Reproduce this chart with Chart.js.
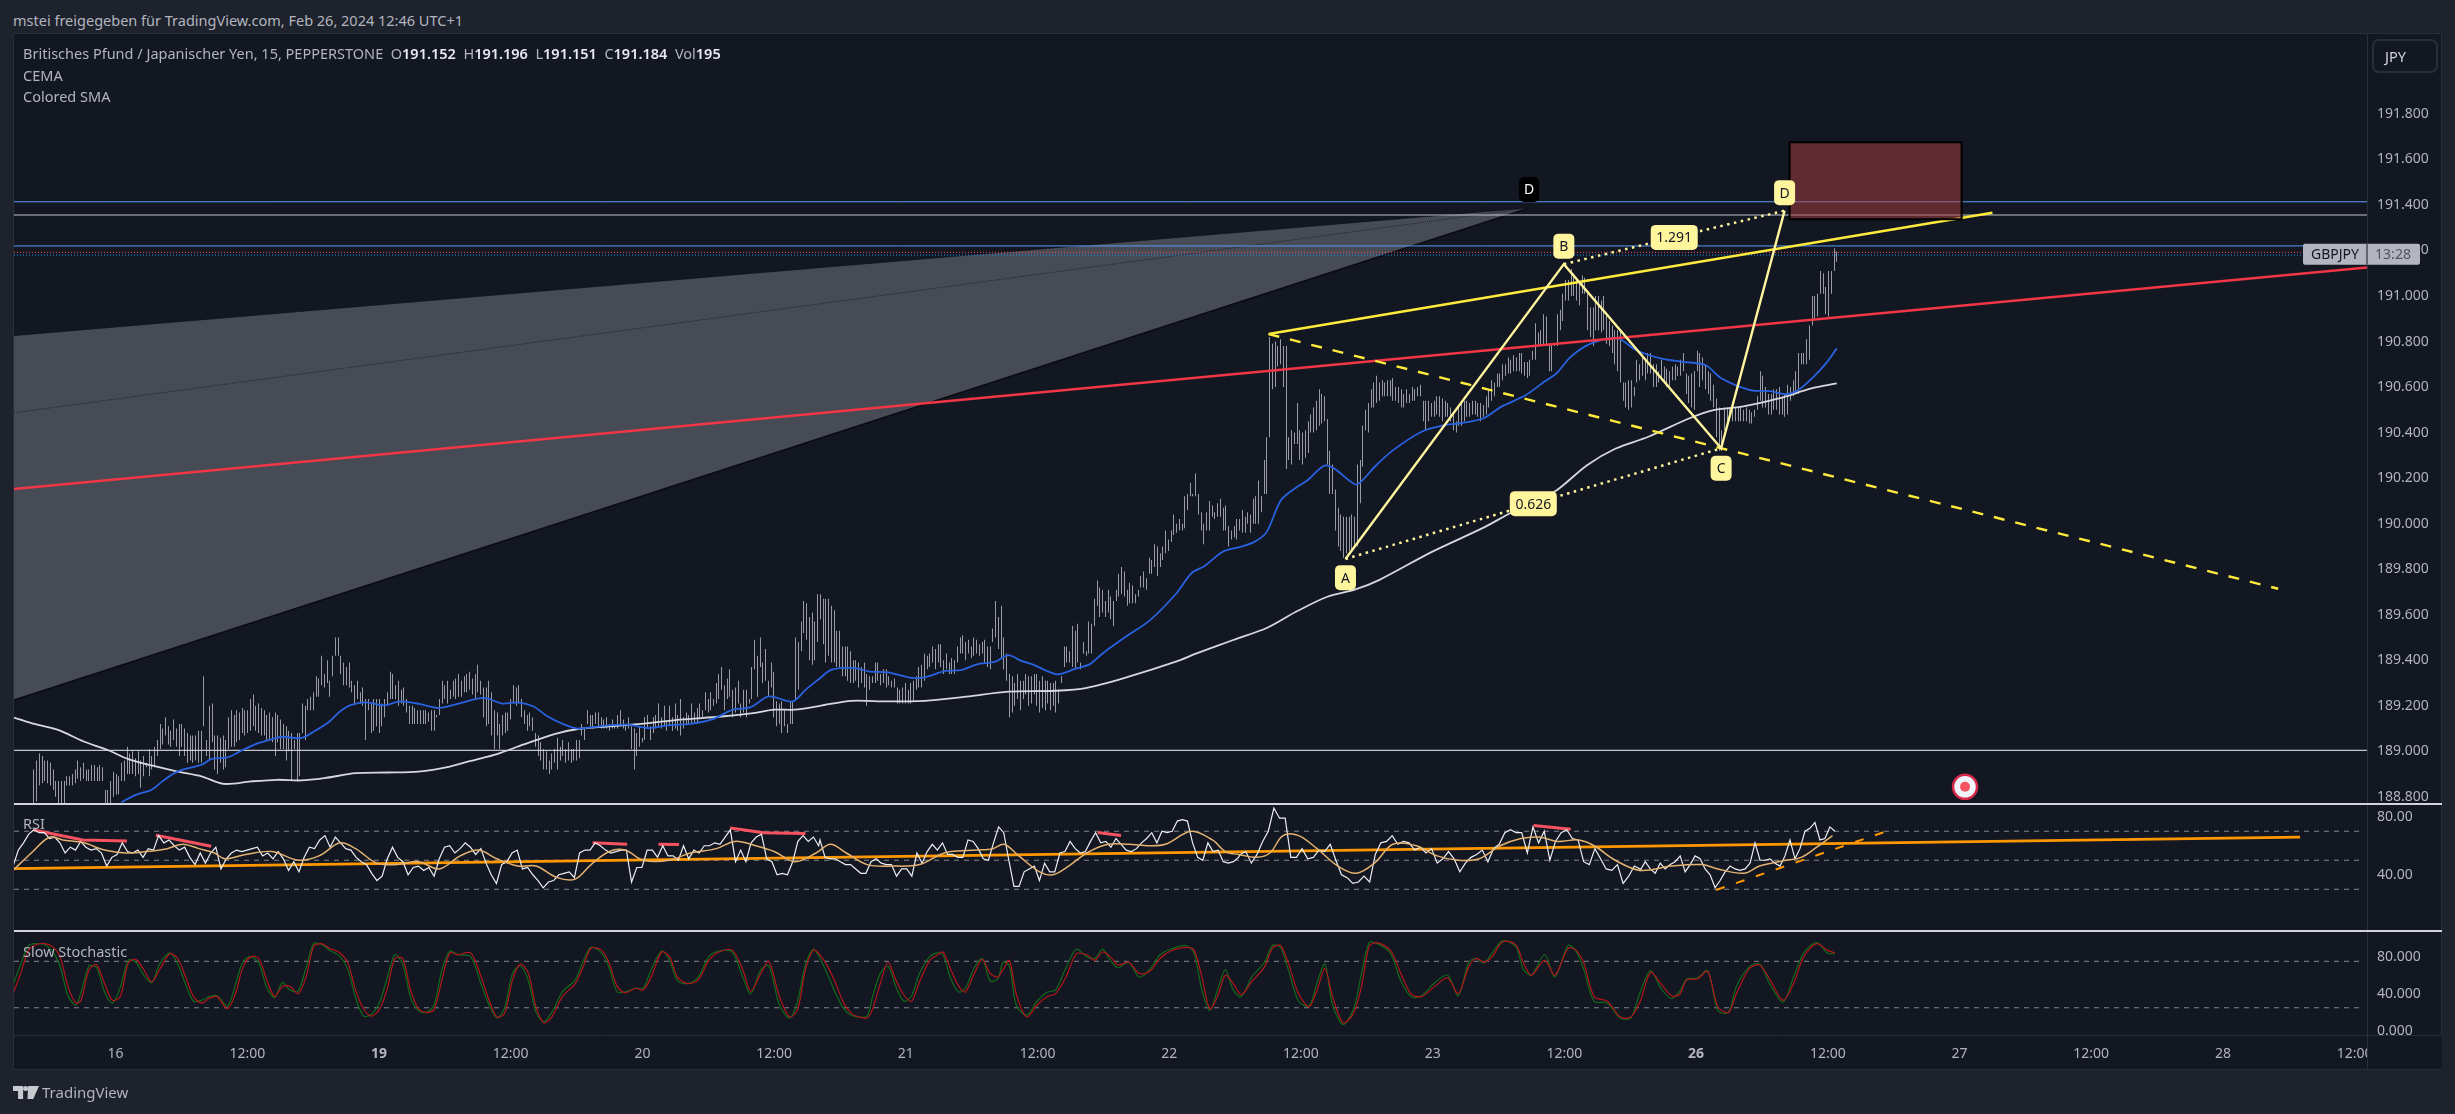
<!DOCTYPE html>
<html>
<head>
<meta charset="utf-8">
<title>GBPJPY 15</title>
<script src="https://cdn.jsdelivr.net/npm/chart.js@4"></script>
<style>
  html, body { margin: 0; padding: 0; background: #1e222d; width: 2455px; height: 1114px; overflow: hidden; }
  body, div { font-family: "Noto Sans", sans-serif; font-size: 14.5px; color: #b2b5be; }
  .abs { position: absolute; white-space: pre; }
  canvas { position: absolute; left: 14px; }
  #frame { left: 13px; top: 33px; width: 2427px; height: 1035px; background: #131722; border: 1px solid #2a2e39; }
  .sep { left: 14px; width: 2428px; height: 2px; background: #d1d4dc; }
  .legend b { color: #e8eaf0; font-weight: 600; }
  #unit { left: 2372px; top: 39px; width: 62px; height: 30px; border: 2px solid #2a2e39; border-radius: 7px; line-height: 30px; color: #d1d4dc; text-indent: 11px; }
</style>
</head>
<body>
<div class="abs" style="left:13px;top:10px">mstei freigegeben für TradingView.com, Feb 26, 2024 12:46 UTC+1</div>
<div class="abs" id="frame"></div>
<canvas id="main" width="2428" height="769" style="top:34px"></canvas>
<canvas id="rsi" width="2428" height="125" style="top:805px"></canvas>
<canvas id="stoch" width="2428" height="137" style="top:932px"></canvas>
<div class="abs sep" style="top:803px"></div>
<div class="abs sep" style="top:930px"></div>
<div class="abs" id="unit">JPY</div>
<div class="abs legend" style="left:23px;top:43px">Britisches Pfund / Japanischer Yen, 15, PEPPERSTONE  O<b>191.152</b>  H<b>191.196</b>  L<b>191.151</b>  C<b>191.184</b>  Vol<b>195</b></div>
<div class="abs legend" style="left:23px;top:65px">CEMA</div>
<div class="abs legend" style="left:23px;top:86px">Colored SMA</div>
<div class="abs" style="left:23px;top:813px">RSI</div>
<div class="abs" style="left:23px;top:941px">Slow Stochastic</div>
<svg class="abs" style="left:13px;top:1086px" width="26" height="13" viewBox="0 0 36 18">
  <path d="M0 0h14v18H7V7H0zM21 0h15l-8 18h-8z" fill="#c8cad0"/><circle cx="17.5" cy="3.5" r="3.5" fill="#c8cad0"/>
</svg>
<div class="abs" style="left:42px;top:1082px;font-size:15px">TradingView</div>

<script>
// session axis: 0 = Fri 16, then one unit per trading day
const dayLabels = ['16', '19', '20', '21', '22', '23', '26', '27', '28'];
const timeTicks = [0, 0.5, 1, 1.5, 2, 2.5, 3, 3.5, 4, 4.5, 5, 5.5, 6, 6.5, 7, 7.5, 8, 8.5];
const boldDays = [1, 6];
const dayMin = -0.3857, dayMax = 8.547;
const priceTicks = [188.8, 189, 189.2, 189.4, 189.6, 189.8, 190, 190.2, 190.4, 190.6, 190.8, 191, 191.2, 191.4, 191.6, 191.8];
const rsiTicks = [40, 80];
const stochTicks = [0, 40, 80];

// 15 minute bars, high and low
const barHigh = [
  188.92,188.96,188.99,188.98,188.96,188.96,188.95,188.92,188.87,188.87,188.87,188.87,188.89,188.89,188.90,188.92,188.96,188.93,188.95,188.92,
  188.92,188.94,188.94,188.93,188.94,188.93,188.83,188.83,188.87,188.91,188.90,188.89,188.95,188.96,189.02,188.99,189.00,188.97,189.00,188.96,
  188.98,188.95,189.01,188.98,189.02,189.05,189.12,189.10,189.15,189.11,189.09,189.14,189.10,189.12,189.12,189.10,189.08,189.07,189.07,189.07,
  189.09,189.09,189.33,189.05,189.20,189.21,189.07,189.07,189.06,189.07,189.05,189.15,189.18,189.16,189.18,189.17,189.19,189.18,189.18,189.23,
  189.25,189.20,189.21,189.19,189.18,189.16,189.17,189.15,189.17,189.16,189.14,189.12,189.11,189.09,189.08,189.05,189.08,189.08,189.21,189.20,
  189.23,189.24,189.26,189.33,189.32,189.42,189.34,189.40,189.31,189.42,189.50,189.50,189.42,189.39,189.37,189.39,189.31,189.29,189.31,189.26,
  189.28,189.23,189.23,189.21,189.23,189.23,189.23,189.21,189.23,189.26,189.35,189.34,189.29,189.31,189.27,189.28,189.23,189.20,189.20,189.19,
  189.18,189.18,189.18,189.18,189.17,189.18,189.18,189.16,189.23,189.31,189.29,189.31,189.27,189.31,189.32,189.34,189.31,189.33,189.34,189.35,
  189.32,189.34,189.38,189.31,189.28,189.28,189.31,189.26,189.18,189.17,189.12,189.16,189.17,189.17,189.23,189.29,189.28,189.29,189.23,189.18,
  189.16,189.17,189.15,189.08,189.07,189.04,189.01,189.00,188.96,188.99,189.01,189.06,189.02,189.05,189.01,189.04,189.01,189.01,189.05,189.05,
  189.12,189.10,189.18,189.16,189.16,189.17,189.17,189.15,189.14,189.15,189.12,189.14,189.12,189.16,189.18,189.14,189.12,189.15,189.11,189.10,
  189.08,189.11,189.06,189.15,189.16,189.11,189.15,189.16,189.21,189.15,189.20,189.13,189.20,189.15,189.21,189.16,189.23,189.15,189.17,189.16,
  189.21,189.17,189.19,189.21,189.18,189.26,189.23,189.26,189.23,189.30,189.34,189.37,189.29,189.32,189.36,189.27,189.28,189.31,189.21,189.27,
  189.27,189.23,189.37,189.49,189.42,189.50,189.39,189.45,189.31,189.39,189.35,189.22,189.21,189.22,189.18,189.12,189.22,189.22,189.50,189.48,
  189.57,189.66,189.65,189.59,189.61,189.57,189.69,
  189.69,189.67,189.67,189.67,189.64,189.62,189.53,189.53,189.46,189.46,189.46,189.44,189.40,189.40,189.39,189.37,189.39,189.34,189.33,189.33,
  189.39,189.39,189.34,189.36,189.36,189.33,189.31,189.32,189.28,189.27,189.28,189.30,189.27,189.30,189.31,189.33,189.37,189.38,189.43,189.42,
  189.43,189.46,189.45,189.47,189.47,189.40,189.43,189.39,189.41,189.40,189.46,189.50,189.51,189.48,189.49,189.46,189.50,189.49,189.47,189.48,
  189.49,189.46,189.46,189.54,189.66,189.59,189.64,189.50,189.43,189.34,189.33,189.30,189.34,189.31,189.31,189.34,189.33,189.33,189.34,189.34,
  189.31,189.33,189.31,189.31,189.30,189.30,189.31,189.27,189.30,189.46,189.46,189.44,189.55,189.53,189.56,189.39,189.48,189.44,189.57,189.56,
  189.67,189.75,189.72,189.71,189.66,189.71,189.68,189.66,189.71,189.78,189.81,189.79,189.71,189.74,189.73,189.69,189.71,189.77,189.79,189.76,
  189.85,189.84,189.91,189.90,189.87,189.90,189.97,189.93,189.97,190.04,190.00,190.02,190.00,190.12,190.13,190.18,190.13,190.22,190.13,190.05,
  190.00,190.05,190.10,190.08,190.05,190.09,190.11,190.07,190.08,189.99,189.97,189.99,190.02,190.02,190.06,190.03,190.05,190.04,190.11,190.12,
  190.19,190.12,190.28,190.38,190.82,190.79,190.80,190.78,190.81,190.78,190.78,190.38,190.41,190.40,190.53,190.41,190.40,190.41,190.45,190.48,
  190.51,190.54,190.59,190.57,190.56,190.46,190.32,190.26,190.15,190.07,190.04,190.03,190.03,190.03,190.04,190.03,190.26,190.28,190.43,190.50,
  190.53,190.59,190.62,190.65,190.62,190.63,190.62,190.63,190.63,190.64,190.60,190.60,190.59,190.57,190.59,190.57,190.60,190.59,190.60,190.61,
  190.54,190.54,190.54,190.53,190.54,190.56,190.56,190.55,190.54,190.53,190.51,190.48,190.45,190.51,190.53,190.54,190.54,190.53,190.54,190.54,
  190.53,190.53,190.52,190.56,190.59,190.63,190.62,190.66,190.66,190.70,190.70,190.73,190.72,190.74,190.73,190.75,190.75,190.71,190.71,190.72,
  190.76,190.88,190.84,190.85,190.92,190.91,190.79,190.79,190.79,190.92,190.94,191.01,191.07,191.07,191.12,191.10,191.08,191.06,191.09,191.08,
  191.01,190.95,190.95,191.00,191.00,190.98,191.00,190.92,190.89,190.87,190.85,190.85,190.85,190.62,190.62,190.63,190.63,190.60,190.72,190.70,
  190.73,190.72,190.75,190.75,190.70,190.70,190.67,190.72,190.69,190.68,190.67,190.69,190.70,190.69,190.72,190.75,190.66,190.65,190.66,190.67,
  190.76,190.75,190.73,190.70,190.67,190.66,190.61,190.55,190.51,190.41,190.51,190.51,190.51,190.51,190.51,190.51,190.51,190.50,190.51,190.50,
  190.49,190.50,190.56,190.67,190.65,190.60,190.57,190.57,190.59,190.59,190.60,190.56,190.57,190.61,190.60,190.63,190.67,190.75,190.75,190.75,
  190.81,190.87,191.00,191.00,191.01,191.11,191.10,191.04,191.11,191.11,191.21,191.196
];
const barLow = [
  188.75,188.78,188.85,188.86,188.87,188.86,188.85,188.83,188.80,188.76,188.75,188.74,188.85,188.85,188.85,188.86,188.88,188.87,188.88,188.87,
  188.87,188.87,188.87,188.87,188.87,188.87,188.77,188.77,188.77,188.80,188.81,188.81,188.87,188.87,188.90,188.90,188.90,188.89,188.90,188.84,
  188.89,188.93,188.89,188.92,188.93,188.98,189.01,189.03,189.07,189.03,189.02,189.05,189.02,188.98,189.02,188.98,188.95,188.96,188.95,188.96,
  188.95,188.95,189.11,188.98,188.96,189.04,188.92,188.90,188.95,188.92,188.93,189.01,189.02,189.02,189.04,189.05,189.08,189.07,189.08,189.09,
  189.11,189.09,189.08,189.07,189.07,189.05,189.05,189.04,188.98,189.04,189.01,189.01,188.96,189.00,188.87,189.01,188.87,188.89,189.08,189.05,
  189.18,189.18,189.18,189.24,189.24,189.29,189.28,189.30,189.24,189.33,189.42,189.42,189.34,189.29,189.29,189.28,189.26,189.21,189.23,189.21,
  189.20,189.05,189.18,189.08,189.09,189.11,189.08,189.11,189.15,189.20,189.23,189.23,189.23,189.20,189.21,189.20,189.17,189.12,189.12,189.12,
  189.12,189.12,189.12,189.12,189.13,189.09,189.09,189.15,189.16,189.21,189.23,189.21,189.23,189.24,189.23,189.24,189.24,189.26,189.26,189.27,
  189.25,189.23,189.26,189.25,189.15,189.11,189.12,189.07,189.01,189.07,189.01,189.07,189.08,189.09,189.14,189.21,189.20,189.21,189.15,189.12,
  189.09,189.11,189.09,189.02,188.98,188.96,188.92,188.92,188.90,188.92,188.95,188.92,188.96,188.98,188.95,188.96,188.95,188.96,188.96,188.97,
  189.07,189.05,189.12,189.11,189.10,189.12,189.11,189.10,189.10,189.10,189.09,189.10,189.10,189.10,189.11,189.10,189.09,189.10,189.01,188.92,
  188.98,189.02,189.04,189.05,189.10,189.05,189.08,189.10,189.11,189.10,189.11,189.09,189.11,189.09,189.10,189.09,189.07,189.10,189.12,189.12,
  189.12,189.12,189.12,189.14,189.15,189.18,189.17,189.18,189.20,189.21,189.23,189.27,189.18,189.23,189.24,189.15,189.17,189.21,189.15,189.17,
  189.15,189.21,189.23,189.36,189.24,189.37,189.30,189.31,189.24,189.28,189.15,189.11,189.12,189.08,189.11,189.08,189.12,189.12,189.23,189.27,
  189.44,189.52,189.49,189.40,189.38,189.40,189.48,
  189.58,189.47,189.39,189.42,189.39,189.39,189.37,189.37,189.33,189.33,189.31,189.30,189.30,189.31,189.28,189.30,189.28,189.20,189.27,189.30,
  189.30,189.31,189.29,189.30,189.28,189.29,189.28,189.28,189.21,189.21,189.21,189.21,189.21,189.21,189.22,189.27,189.28,189.28,189.31,189.36,
  189.37,189.39,189.36,189.39,189.37,189.34,189.36,189.34,189.34,189.34,189.39,189.43,189.43,189.40,189.43,189.41,189.42,189.43,189.42,189.43,
  189.39,189.37,189.36,189.48,189.50,189.45,189.41,189.36,189.31,189.15,189.17,189.20,189.23,189.18,189.23,189.25,189.20,189.21,189.25,189.20,
  189.17,189.19,189.18,189.21,189.18,189.20,189.17,189.21,189.33,189.37,189.39,189.39,189.37,189.36,189.39,189.36,189.43,189.42,189.43,189.43,
  189.55,189.64,189.59,189.61,189.59,189.61,189.58,189.55,189.66,189.68,189.69,189.68,189.64,189.65,189.65,189.65,189.68,189.72,189.72,189.71,
  189.78,189.78,189.81,189.77,189.81,189.84,189.87,189.88,189.92,189.95,189.96,189.97,189.97,189.98,190.06,190.12,190.12,190.12,190.04,189.97,
  189.91,189.97,189.97,190.03,190.02,190.03,190.03,189.97,189.97,189.90,189.93,189.94,189.93,189.97,189.96,189.96,190.00,189.96,190.00,190.00,
  190.00,190.05,190.13,190.13,190.38,190.59,190.60,190.69,190.70,190.60,190.24,190.28,190.26,190.35,190.35,190.28,190.26,190.29,190.31,190.40,
  190.40,190.41,190.43,190.44,190.45,190.26,190.13,190.13,189.97,189.90,189.88,189.85,189.87,189.88,189.88,189.90,189.90,190.09,190.25,190.41,
  190.40,190.51,190.51,190.53,190.54,190.56,190.56,190.56,190.56,190.54,190.54,190.53,190.51,190.51,190.53,190.53,190.54,190.54,190.56,190.56,
  190.45,190.41,190.45,190.47,190.47,190.48,190.47,190.45,190.47,190.47,190.45,190.41,190.40,190.43,190.43,190.45,190.47,190.47,190.48,190.48,
  190.47,190.45,190.47,190.48,190.51,190.54,190.56,190.60,190.60,190.63,190.65,190.66,190.66,190.67,190.67,190.67,190.66,190.65,190.64,190.65,
  190.72,190.72,190.78,190.78,190.78,190.79,190.67,190.67,190.78,190.78,190.85,190.89,190.98,190.98,191.00,191.00,190.98,190.96,191.01,191.01,
  190.85,190.82,190.78,190.85,190.85,190.84,190.85,190.79,190.78,190.75,190.70,190.67,190.62,190.54,190.51,190.50,190.51,190.56,190.62,190.63,
  190.65,190.63,190.66,190.66,190.60,190.60,190.62,190.63,190.62,190.60,190.60,190.63,190.63,190.65,190.65,190.67,190.57,190.53,190.51,190.50,
  190.67,190.60,190.63,190.59,190.57,190.54,190.51,190.38,190.32,190.32,190.41,190.44,190.45,190.45,190.45,190.45,190.45,190.45,190.45,190.44,
  190.44,190.47,190.50,190.54,190.51,190.51,190.48,190.48,190.50,190.50,190.48,190.48,190.47,190.48,190.54,190.56,190.57,190.57,190.70,190.70,
  190.70,190.72,190.87,190.90,190.91,191.01,191.01,190.92,190.91,191.01,191.11,191.151
];
const barFirstDay = -0.3098, barLastDay = 6.5344;

// CEMA
const cemaDay = [0.022,0.077,0.137,0.177,0.236,0.326,0.365,0.425,0.485,0.534,0.594,0.633,0.703,0.753,0.812,0.852,0.892,0.951,1.021,1.080,1.150,1.229,1.309,1.398,1.467,1.527,1.587,1.636,1.696,1.755,1.845,1.944,2.023,2.103,2.182,2.262,2.341,2.411,2.480,2.570,2.619,2.675,
  2.714,2.764,2.813,2.863,2.932,3.022,3.071,3.151,3.210,3.270,3.340,3.389,3.439,3.488,3.528,3.578,3.647,3.697,3.747,3.836,3.925,4.025,4.084,4.134,4.203,
  4.269,4.323,4.370,4.424,4.486,4.525,4.587,4.625,4.707,4.734,4.780,4.850,4.958,5.044,5.098,5.191,5.261,5.354,5.423,5.470,5.524,5.602,5.702,5.772,5.865,5.950,6.035,6.097,6.206,6.283,6.345,6.392,6.446,6.493,6.534];
const cemaPrice = [188.777,188.809,188.831,188.868,188.912,188.941,188.967,188.973,189.007,189.033,189.054,189.064,189.058,189.087,189.131,189.175,189.203,189.215,189.202,189.219,189.209,189.191,189.212,189.235,189.21,189.215,189.197,189.156,189.121,189.10,189.111,189.117,189.102,189.115,189.121,189.139,189.182,189.194,189.241,189.219,189.27,189.322,
  189.357,189.367,189.364,189.35,189.347,189.323,189.325,189.353,189.357,189.382,189.394,189.423,189.397,189.379,189.357,189.338,189.364,189.382,189.43,189.504,189.574,189.691,189.782,189.814,189.877,
  189.898,189.92,189.964,190.103,190.162,190.191,190.254,190.243,190.172,190.191,190.25,190.323,190.404,190.433,190.44,190.462,190.514,190.565,190.623,190.66,190.733,190.792,190.814,190.763,190.726,190.711,190.697,190.638,190.587,190.582,190.569,190.59,190.645,190.704,190.77];

// Colored SMA
const smaDay = [-0.389,-0.320,-0.221,-0.121,-0.032,0.048,0.137,0.236,0.326,0.411,0.514,0.614,0.703,0.792,0.911,1.031,1.150,1.269,1.348,1.448,1.547,1.666,1.755,1.865,2.023,2.143,2.301,2.421,2.500,2.579,2.675,
  2.793,2.932,3.071,3.230,3.389,3.568,3.687,3.846,4.025,4.104,4.243,4.372,4.481,4.600,4.707,4.796,4.997,5.199,5.292,5.462,5.586,5.695,5.819,5.973,6.066,6.175,6.314,6.438,6.534];
const smaPrice = [189.149,189.124,189.095,189.043,189.007,188.966,188.938,188.911,188.89,188.857,188.868,188.875,188.872,188.882,188.904,188.907,188.911,188.933,188.958,188.988,189.029,189.076,189.098,189.109,189.124,189.139,189.153,189.168,189.183,189.183,189.20,
  189.222,189.219,189.222,189.24,189.262,189.266,189.279,189.328,189.394,189.43,189.489,189.543,189.613,189.679,189.711,189.752,189.876,189.986,190.045,190.14,190.257,190.33,190.382,190.462,190.499,190.514,190.55,190.594,190.616];

// drawings on the price pane
const levelBlue = [191.414, 191.22];
const levelGray = [191.356, 189.004];
const levelDotRed = 191.192, levelDotBlue = 191.18;
const fanDay = [dayMin, 5.366];
const fanTopPrice = [190.826, 191.387];
const fanMidPrice = [190.487, 191.387];
const fanLowPrice = [189.225, 191.387];
const redTrendDay = [dayMin, dayMax];
const redTrendPrice = [190.152, 191.125];
const wedgeDay = [7.125, 4.377, 8.21];
const wedgePrice = [191.366, 190.833, 189.714];
const patternDay = [4.669, 5.498, 6.095, 6.336];
const patternPrice = [189.845, 191.14, 190.331, 191.375];
const patternNames = ['A', 'B', 'C', 'D'];
const boxDay = [6.355, 7.008];
const boxPrice = [191.676, 191.337];
const markerDay = 7.021, markerPrice = 188.844;
const lastPrice = 191.184;

// RSI, four stretches of the session each sampled evenly
const rsiSpans = [[-0.389, 2.669], [2.674, 4.263], [4.269, 5.787], [5.788, 6.527]];
const rsiA = [46,57,62,68,71,69,69,65,66,62,55,59,57,63,59,57,58,55,46,52,54,62,56,55,57,52,58,57,67,62,64,60,57,59,52,47,55,48,55,59,44,51,55,57,56,57,58,59,53,55,51,56,51,43,49,42,52,59,58,64,67,59,66,62,58,57,52,49,47,41,36,39,51,59,52,49,40,45,46,43,45,39,51,59,60,55,58,62,59,54,58,48,40,34,47,49,55,57,44,45,40,36,31,35,36,40,41,42,38,55,57,57,62,60,57,55,56,57,57,35,45,45,57,57,52,60,53,53,50,60,51,57,55,60,60,62,61,66,71,49,57,49,62,66,68,51,49,40,41,40,49,63,67,63,66,60];
const rsiB = [64,52,51,51,49,47,47,44,41,41,49,51,48,47,47,39,44,44,39,55,48,56,61,57,62,54,54,52,52,64,63,58,51,50,62,73,69,50,32,32,42,44,46,36,48,42,42,55,56,63,58,55,56,63,69,62,63,59,65,61,57,56,58,62,65,69,62,70,69,70,77,78,77,62,52,50,62,56,57,49,48,49,52];
const rsiC = [54,56,48,54,63,70,86,79,79,52,52,58,51,52,57,56,61,50,40,38,34,35,39,35,54,62,63,67,61,63,62,57,59,55,58,48,51,56,51,42,48,52,54,57,49,58,61,69,71,69,69,55,73,62,70,50,63,69,71,65,64,49,47,58,51,44,43,47,34,39,46,44];
const rsiD = [43,49,44,41,48,44,47,49,53,42,47,53,51,44,40,31,36,42,46,44,43,44,48,62,50,50,51,48,46,53,64,51,58,70,72,76,64,65,73,70];
const rsiMaDay = [-0.389,-0.320,-0.250,-0.201,-0.121,-0.042,0.038,0.117,0.196,0.256,0.316,0.375,0.415,0.494,0.594,0.693,0.772,0.852,0.911,0.991,1.070,1.150,1.229,1.308,1.378,1.447,1.527,1.596,1.676,1.745,1.805,1.874,1.934,2.003,2.103,2.182,2.281,2.351,2.430,2.500,2.579,2.659,
  2.714,2.774,2.853,2.952,3.052,3.131,3.171,3.270,3.330,3.373,3.429,3.508,3.558,3.618,3.687,3.767,3.846,3.925,3.985,4.084,4.164,4.213,4.263,4.332,4.382,4.432,4.491,4.561,4.640,4.710,4.779,4.849,4.938,5.017,5.097,5.176,5.256,5.335,5.405,5.474,5.554,5.613,5.693,5.788,5.906,6.024,6.083,6.182,6.241,6.340,6.399,6.458,6.518];
const rsiMa = [43,55,66,64,62,57,55,56,58,61,58,55,51,54,56,50,53,62,58,48,47,49,44,53,57,51,46,46,38,37,47,56,57,50,50,55,58,63,60,56,49,55,
  61,55,47,46,47,54,56,57,58,61,53,42,40,46,55,61,61,60,61,70,64,56,54,52,55,67,67,58,46,41,48,61,60,53,50,51,60,65,66,63,64,60,50,43,46,47,44,41,46,50,52,59,67];
const rsiLevels = [70, 50, 30];
const rsiTrendDay = [dayMin, 8.293];
const rsiTrend = [44.2, 65.9];
const rsiChannelDay = [6.076, 6.729];
const rsiChannel = [29.5, 70.4];
// divergence marks, null breaks the line between them
const rsiDivDay = [-0.31,-0.125,0.043,null,0.153,0.363,null,1.811,1.942,null,2.061,2.139,null,2.333,2.46,2.619,null,3.728,3.817,null,5.383,5.524];
const rsiDiv = [70.9,64,63.3,null,67.2,59.7,null,62,61,null,61,60.8,null,72.3,68.9,68.4,null,69.1,67,null,73.9,71.4];

// Slow Stochastic
const stochDay = [
  -0.389,-0.360,-0.330,-0.300,-0.270,-0.240,-0.211,-0.181,-0.151,-0.131,
  -0.101,-0.072,-0.042,-0.012,0.018,0.048,0.077,0.107,0.137,0.167,
  0.206,0.236,0.266,0.296,0.326,0.355,0.385,0.425,0.455,0.484,
  0.514,0.544,0.574,0.604,0.633,0.663,0.693,0.723,0.752,0.782,
  0.812,0.852,0.882,0.911,0.941,0.971,1.001,1.030,1.060,1.090,
  1.120,1.150,1.179,1.209,1.239,1.269,1.299,1.348,1.388,1.418,
  1.448,1.477,1.507,1.537,1.567,1.596,1.626,1.656,1.696,1.745,
  1.775,1.805,1.845,1.874,1.904,1.934,1.974,2.003,2.033,2.073,
  2.103,2.133,2.172,2.212,2.252,2.291,2.341,2.381,2.411,2.450,
  2.480,2.520,2.559,2.589,2.619,2.649,
  2.674,2.704,2.734,2.764,2.793,2.823,2.853,2.873,2.903,2.932,
  2.962,2.992,3.022,3.052,3.091,3.121,3.141,3.171,3.201,3.226,
  3.260,3.290,3.320,3.349,3.369,3.393,3.419,3.459,3.498,3.538,
  3.568,3.608,3.647,3.687,3.717,3.747,3.776,3.806,3.846,3.886,
  3.925,3.965,4.005,4.064,4.094,4.124,4.154,4.183,4.213,4.243,
  4.273,4.313,4.362,4.392,4.422,4.452,4.491,4.531,4.561,4.591,
  4.620,4.660,4.700,4.730,4.759,4.789,4.839,4.879,4.918,4.958,
  5.008,5.057,5.097,5.137,5.166,5.196,5.226,5.266,5.315,5.345,
  5.375,5.425,5.464,5.514,5.544,5.574,5.613,5.663,5.712,5.752,
  5.788,5.827,5.866,5.906,5.936,5.965,6.005,6.044,6.083,6.123,
  6.153,6.202,6.241,6.281,6.330,6.370,6.409,6.458,6.498,6.527];
const stochSlow = [
  40,62,87,93,94,91,80,48,30,33,
  66,71,51,33,37,73,77,66,53,66,
  83,78,58,37,30,35,37,24,40,69,
  80,78,55,37,48,48,40,58,91,94,
  89,84,73,44,24,16,23,44,78,78,
  44,24,20,23,55,84,82,84,58,33,
  15,19,55,72,62,26,9,15,37,51,
  69,89,87,73,48,41,46,44,58,85,
  80,58,51,55,76,85,87,66,43,62,
  75,37,15,23,66,87,
  82,69,51,30,19,15,14,23,51,74,
  55,39,32,53,76,82,85,66,48,42,
  62,77,62,58,66,76,40,15,28,37,
  40,58,83,82,76,85,80,71,74,62,
  64,78,86,90,87,58,24,37,60,51,
  39,53,69,89,92,73,40,26,44,67,
  37,9,19,48,91,95,87,62,40,37,
  48,57,40,69,78,74,80,96,93,73,
  60,76,60,89,87,73,37,32,15,15,
  32,63,51,38,39,55,56,64,26,20,
  40,67,71,55,33,51,80,94,87,84];
const stochFast = [
  50,72,92,94,93,86,70,38,28,42,
  70,68,42,30,47,76,74,60,52,72,
  84,72,50,32,33,37,38,27,50,75,
  80,73,47,36,52,44,43,68,94,93,
  87,80,66,36,16,18,30,56,82,72,
  36,22,20,28,66,86,82,80,50,28,
  14,25,62,70,54,20,10,20,42,55,
  75,90,84,68,42,42,46,46,66,86,
  76,54,51,58,80,86,85,58,40,66,
  70,28,14,32,72,88,
  78,60,40,24,17,15,16,36,62,70,
  48,32,38,62,80,84,82,56,42,46,
  68,78,54,56,74,70,28,17,32,42,
  44,68,88,80,78,88,76,68,74,58,
  66,82,88,92,84,44,22,44,66,44,
  37,58,74,92,90,66,32,27,52,72,
  28,7,24,62,95,94,84,54,37,38,
  52,60,38,74,78,73,84,97,91,66,
  60,82,58,92,86,66,32,30,14,14,
  42,65,46,35,42,56,57,65,22,20,
  48,69,72,50,31,58,84,95,84,83];
const stochLevels = [75, 25];
const levelEndDay = 8.52;

const AXIS_TEXT = '#b2b5be', AXIS_LINE = '#2a2e39', PANE_BG = '#131722';
const FONT = '"Noto Sans", sans-serif';

const xy = (xs, ys) => xs.map((x, i) => ({ x, y: ys[i] }));
const evenly = ([a, b], n) => Array.from({ length: n }, (_, i) => a + (b - a) * i / (n - 1));

function line(xs, ys, color, width, order, extra) {
  return { type: 'line', data: xy(xs, ys), borderColor: color, borderWidth: width, order,
    pointRadius: 0, tension: 0, spanGaps: false, fill: false, ...extra };
}
const level = (y, color, width, order, dash, end) =>
  line([dayMin, end || dayMax], [y, y], color, width, order, { borderDash: dash || [] });

function pane(id, datasets, yMin, yMax, ticks, digits, withTime, plugins) {
  return new Chart(document.getElementById(id), {
    type: 'line',
    data: { datasets },
    plugins: plugins || [],
    options: {
      responsive: false,
      animation: false,
      events: [],
      layout: { padding: 0, autoPadding: false },
      plugins: { legend: { display: false }, tooltip: { enabled: false } },
      scales: {
        x: {
          type: 'linear', min: dayMin, max: dayMax, offset: false, bounds: 'data',
          display: withTime,
          grid: { display: false, drawTicks: false },
          border: { display: true, color: AXIS_LINE },
          afterBuildTicks: s => { s.ticks = timeTicks.map(value => ({ value })); },
          afterFit: s => { s.height = withTime ? 34 : 0; s.paddingLeft = 0; s.paddingRight = 0; },
          ticks: {
            autoSkip: false, maxRotation: 0, padding: 11,
            color: AXIS_TEXT,
            font: c => ({ family: FONT, size: 14, weight: c.tick && boldDays.includes(c.tick.value) ? 'bold' : 'normal' }),
            callback: v => (Number.isInteger(v) ? dayLabels[v] : '12:00')
          }
        },
        y: {
          position: 'right', min: yMin, max: yMax, bounds: 'data',
          grid: { display: false, drawTicks: false },
          border: { display: true, color: AXIS_LINE },
          afterBuildTicks: s => { s.ticks = ticks.map(value => ({ value })); },
          afterFit: s => { s.width = 75; s.paddingTop = 0; s.paddingBottom = 0; },
          ticks: {
            autoSkip: false, padding: 10,
            color: AXIS_TEXT, font: { family: FONT, size: 14 },
            callback: v => v.toFixed(digits)
          }
        }
      }
    }
  });
}

// keep the one pixel bars on whole pixel columns
const crispBars = {
  id: 'crispBars',
  beforeDatasetDraw(chart, { meta }) {
    if (meta.type !== 'bar') return;
    meta.data.forEach(el => { el.x = Math.floor(el.x) + 0.5; });
  }
};

// pattern labels and the symbol tag on the price pane
const priceOverlay = {
  id: 'priceOverlay',
  afterDatasetsDraw(chart) {
    const { ctx, scales: { x, y } } = chart;
    const tag = (cx, cy, w, h, text, bg, fg) => {
      ctx.fillStyle = bg;
      ctx.beginPath();
      ctx.roundRect(cx - w / 2, cy - h / 2, w, h, 5);
      ctx.fill();
      ctx.fillStyle = fg;
      ctx.fillText(text, cx, cy + 1);
    };
    ctx.save();
    ctx.font = '14px ' + FONT;
    ctx.textAlign = 'center';
    ctx.textBaseline = 'middle';
    const px = patternDay.map(d => x.getPixelForValue(d));
    const py = patternPrice.map(p => y.getPixelForValue(p));
    const pale = '#fff59d', dark = '#131722';
    [18.7, -18, 20, -18].forEach((dy, i) => tag(px[i], py[i] + dy, 21, 25, patternNames[i], pale, dark));
    tag((px[0] + px[2]) / 2, (py[0] + py[2]) / 2, 47, 25, '0.626', pale, dark);
    tag((px[1] + px[3]) / 2, (py[1] + py[3]) / 2, 47, 25, '1.291', pale, dark);
    tag(x.getPixelForValue(fanDay[1]), y.getPixelForValue(fanTopPrice[1]) - 18.5, 20, 25, 'D', '#000000', '#ffffff');

    // symbol and countdown, running over the price scale
    const cy = y.getPixelForValue(lastPrice);
    const edge = x.right;
    ctx.fillStyle = '#b2b5be';
    ctx.beginPath();
    ctx.roundRect(edge - 64, cy - 10.5, 117, 21, 2);
    ctx.fill();
    ctx.fillStyle = PANE_BG;
    ctx.fillRect(edge - 0.5, cy - 10.5, 1, 21);
    ctx.fillStyle = '#131722';
    ctx.fillText('GBPJPY', edge - 32, cy + 1);
    ctx.fillStyle = '#50535e';
    ctx.fillText('13:28', edge + 26, cy + 1);
    ctx.restore();
  }
};

// the last time label and the lowest price label stop at the scale corner
const cornerMask = {
  id: 'cornerMask',
  afterDraw(chart) {
    const { ctx, chartArea: a, width, height } = chart;
    ctx.save();
    ctx.fillStyle = PANE_BG;
    ctx.fillRect(a.right, a.bottom, width - a.right, height - a.bottom);
    ctx.fillStyle = AXIS_LINE;
    ctx.fillRect(a.right, a.bottom, width - a.right, 1);
    ctx.fillRect(a.right, a.bottom, 1, height - a.bottom);
    ctx.restore();
  }
};

const barDays = evenly([barFirstDay, barLastDay], barHigh.length);
const priceSets = [
  // fan: top edge fills down to the low edge
  line(fanDay, fanTopPrice, '#0e1016', 1, 100, { borderDash: [1, 1], fill: '+1', backgroundColor: '#474b55' }),
  line(fanDay, fanLowPrice, '#0a0c10', 1.5, 99),
  line(fanDay, fanMidPrice, '#24262d', 1, 98, { borderDash: [1, 1] }),
  level(levelBlue[0], '#5b9cf6', 1, 90),
  level(levelBlue[1], '#5b9cf6', 1, 90),
  level(levelGray[0], '#c3c5cc', 1.2, 90),
  level(levelGray[1], '#c3c5cc', 1.2, 90),
  level(levelDotRed, '#f7525f', 1, 90, [1, 2]),
  level(levelDotBlue, '#2196f3', 1, 90, [1, 2]),
  {
    type: 'bar', order: 80, grouped: false, barThickness: 1, borderWidth: 0, inflateAmount: 0,
    backgroundColor: 'rgba(205,208,216,0.72)',
    data: barDays.map((x, i) => ({ x, y: [barLow[i], barHigh[i]] }))
  },
  line(smaDay, smaPrice, '#d6d8de', 1.8, 70, { tension: 0.3 }),
  line(cemaDay, cemaPrice, '#2962e0', 1.8, 69, { tension: 0.3 }),
  line(redTrendDay, redTrendPrice, '#f23645', 2.4, 60),
  line(wedgeDay.slice(0, 2), wedgePrice.slice(0, 2), '#ffeb3b', 2.4, 58),
  line(wedgeDay.slice(1), wedgePrice.slice(1), '#ffeb3b', 2.4, 58, { borderDash: [11, 11] }),
  line(patternDay, patternPrice, '#fff59d', 2.4, 55),
  line([patternDay[0], patternDay[2]], [patternPrice[0], patternPrice[2]], '#fff59d', 2.5, 55, { borderDash: [2.5, 4.5] }),
  line([patternDay[1], patternDay[3]], [patternPrice[1], patternPrice[3]], '#fff59d', 2.5, 55, { borderDash: [2.5, 4.5] }),
  line([boxDay[0], boxDay[1], boxDay[1], boxDay[0], boxDay[0]], [boxPrice[0], boxPrice[0], boxPrice[1], boxPrice[1], boxPrice[0]],
    '#000000', 2, 50, { fill: 'shape', backgroundColor: 'rgba(173,63,62,0.5)' }),
  line([markerDay], [markerPrice], '#f7525f', 0, 41, { pointRadius: 5, pointBackgroundColor: '#f7525f', pointBorderWidth: 0 }),
  line([markerDay], [markerPrice], '#d5294a', 0, 42, { pointRadius: 12, pointBackgroundColor: '#f0f3fa', pointBorderColor: '#d5294a', pointBorderWidth: 2.5 })
];
pane('main', priceSets, 188.773, 192.151, priceTicks, 3, false, [crispBars, priceOverlay]);

const rsiDays = [rsiA, rsiB, rsiC, rsiD].flatMap((vals, i) => evenly(rsiSpans[i], vals.length));
const rsiVals = [...rsiA, ...rsiB, ...rsiC, ...rsiD];
const rsiSets = [
  ...rsiLevels.map(v => level(v, '#83868f', 1, 90, [5, 5], levelEndDay)),
  line(rsiDivDay, rsiDiv, '#f7525f', 3, 40),
  line(rsiTrendDay, rsiTrend, '#ff9800', 2.8, 20),
  line(rsiChannelDay, rsiChannel, '#ff9800', 2, 20, { borderDash: [9, 12] }),
  line(rsiDays, rsiVals, '#eceef3', 1.2, 12),
  line(rsiMaDay, rsiMa, '#e3b272', 1.5, 10, { tension: 0.35 })
];
pane('rsi', rsiSets, 1.9, 88.1, rsiTicks, 2, false);

const stochSets = [
  ...stochLevels.map(v => level(v, '#83868f', 1, 90, [5, 5], levelEndDay)),
  line(stochDay, stochFast, '#116a1a', 1.2, 12, { tension: 0.3 }),
  line(stochDay, stochSlow, '#b5161b', 1.2, 10, { tension: 0.3 })
];
pane('stoch', stochSets, -4.3, 106.5, stochTicks, 3, true, [cornerMask]);
</script>
</body>
</html>
